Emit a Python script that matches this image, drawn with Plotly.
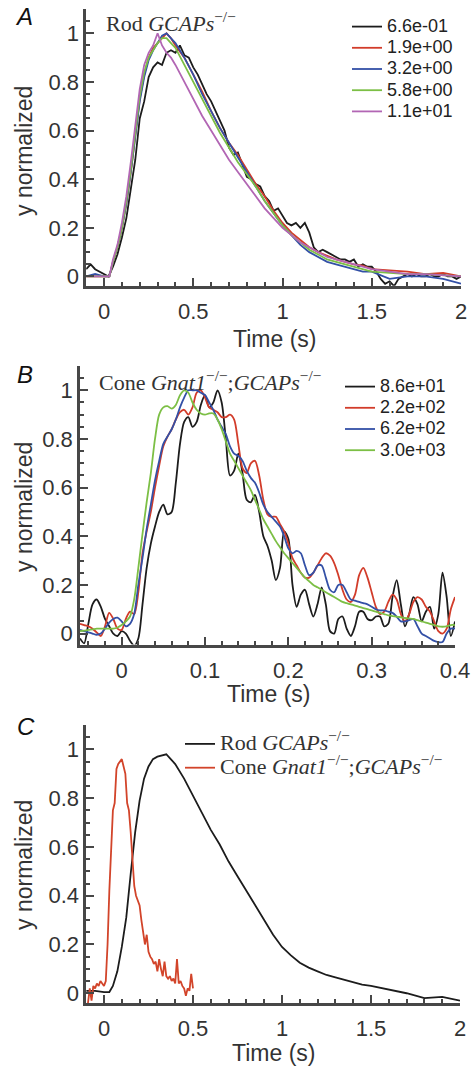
import plotly.graph_objects as go

# ---------------- Panel A: Rod GCAPs-/- ----------------
t_A_black = [-0.1, -0.075, -0.05, -0.025, 0.0, 0.025, 0.05, 0.075, 0.1, 0.125,
             0.15, 0.175, 0.2, 0.225, 0.25, 0.275, 0.3, 0.325, 0.35, 0.375,
             0.4, 0.425, 0.45, 0.475, 0.5, 0.525, 0.55, 0.575, 0.6, 0.625,
             0.65, 0.675, 0.7, 0.725, 0.75, 0.775, 0.8, 0.825, 0.85, 0.875,
             0.9, 0.925, 0.95, 0.975, 1.0, 1.025, 1.05, 1.075, 1.1, 1.125,
             1.15, 1.175, 1.2, 1.225, 1.25, 1.275, 1.3, 1.325, 1.35, 1.375,
             1.4, 1.425, 1.45, 1.475, 1.5, 1.525, 1.55, 1.575, 1.6, 1.625,
             1.65, 1.675, 1.7, 1.725, 1.75, 1.775, 1.8, 1.825, 1.85, 1.875,
             1.9, 1.925, 1.95, 1.975, 2.0]
A_6p6em01 = [0.03, 0.05, 0.03, 0.02, 0.01, 0.0, 0.04, 0.09, 0.16, 0.24,
             0.36, 0.48, 0.65, 0.72, 0.82, 0.86, 0.88, 0.87, 0.92, 0.93,
             0.92, 0.95, 0.91, 0.9, 0.86, 0.83, 0.79, 0.75, 0.72, 0.68,
             0.64, 0.6, 0.53, 0.5, 0.51, 0.46, 0.41, 0.4, 0.38, 0.37,
             0.33, 0.31, 0.27, 0.28, 0.25, 0.22, 0.21, 0.22, 0.2, 0.22,
             0.18, 0.12, 0.1, 0.11, 0.1, 0.09, 0.08, 0.07, 0.07, 0.06,
             0.07, 0.04, 0.05, 0.04, 0.04, 0.02, -0.01, -0.03, -0.02, -0.04,
             -0.01, 0.0, 0.01, 0.0, 0.01, 0.0, 0.0, 0.01, 0.0, 0.0,
             0.01, 0.0, 0.0, -0.01, 0.0]

t_A = [-0.1, -0.05, 0.0, 0.03, 0.05, 0.075, 0.1, 0.125, 0.15, 0.175,
       0.2, 0.225, 0.25, 0.275, 0.3, 0.325, 0.35, 0.375, 0.4, 0.45,
       0.5, 0.55, 0.6, 0.65, 0.7, 0.75, 0.8, 0.85, 0.9, 0.95,
       1.0, 1.05, 1.1, 1.15, 1.2, 1.25, 1.3, 1.35, 1.4, 1.45,
       1.5, 1.6, 1.7, 1.8, 1.9, 2.0]
A_1p9e00 = [0.0, 0.0, 0.0, 0.0, 0.06, 0.12, 0.2, 0.3, 0.43, 0.58,
            0.73, 0.83, 0.9, 0.94, 0.96, 0.98, 1.0, 0.98, 0.95, 0.9,
            0.83, 0.76, 0.68, 0.61, 0.55, 0.5, 0.44, 0.38, 0.33, 0.27,
            0.22, 0.18, 0.15, 0.12, 0.1, 0.085, 0.07, 0.06, 0.05, 0.045,
            0.03, 0.025, 0.02, 0.01, 0.015, 0.0]
A_3p2e00 = [0.0, 0.01, 0.0, 0.0, 0.06, 0.12, 0.2, 0.3, 0.43, 0.57,
            0.72, 0.82, 0.89, 0.93, 0.96, 0.99, 1.0, 0.98, 0.96, 0.9,
            0.83, 0.75, 0.68, 0.61, 0.55, 0.49, 0.43, 0.37, 0.31, 0.26,
            0.21, 0.17, 0.13, 0.1, 0.08, 0.06, 0.05, 0.04, 0.03, 0.02,
            0.02, -0.01, 0.0, 0.0, -0.01, -0.03]
A_5p8e00 = [0.0, 0.0, 0.0, 0.0, 0.06, 0.12, 0.2, 0.31, 0.44, 0.6,
            0.74, 0.84, 0.9, 0.93, 0.96, 0.98, 0.98, 0.96, 0.94, 0.87,
            0.8, 0.73, 0.66, 0.59, 0.53, 0.47, 0.42, 0.37, 0.31, 0.26,
            0.21, 0.17, 0.14, 0.11, 0.09, 0.07, 0.06, 0.05, 0.04, 0.03,
            0.02, 0.015, 0.01, 0.01, 0.005, 0.0]
A_1p1e01 = [0.0, 0.0, 0.0, 0.0, 0.07, 0.13, 0.22, 0.33, 0.47, 0.62,
            0.77, 0.87, 0.92, 0.95, 1.0, 0.95, 0.92, 0.9, 0.87, 0.8,
            0.73, 0.66, 0.6, 0.54, 0.48, 0.43, 0.38, 0.33, 0.28, 0.24,
            0.2, 0.17, 0.14, 0.12, 0.1, 0.08, 0.07, 0.06, 0.05, 0.04,
            0.03, 0.02, 0.01, 0.01, 0.005, 0.0]
labels_A = ["6.6e-01", "1.9e+00", "3.2e+00", "5.8e+00", "1.1e+01"]

# ---------------- Panel B: Cone Gnat1-/-;GCAPs-/- ----------------
t_B = [-0.05, -0.045, -0.04, -0.035, -0.03, -0.025, -0.02, -0.015, -0.01, -0.005,
       0.0, 0.005, 0.01, 0.015, 0.02, 0.025, 0.03, 0.035, 0.04, 0.045,
       0.05, 0.055, 0.06, 0.065, 0.07, 0.075, 0.08, 0.085, 0.09, 0.095,
       0.1, 0.105, 0.11, 0.115, 0.12, 0.125, 0.13, 0.135, 0.14, 0.145,
       0.15, 0.155, 0.16, 0.165, 0.17, 0.175, 0.18, 0.185, 0.19, 0.195,
       0.2, 0.205, 0.21, 0.215, 0.22, 0.225, 0.23, 0.235, 0.24, 0.245,
       0.25, 0.255, 0.26, 0.265, 0.27, 0.275, 0.28, 0.285, 0.29, 0.295,
       0.3, 0.305, 0.31, 0.315, 0.32, 0.325, 0.33, 0.335, 0.34, 0.345,
       0.35, 0.355, 0.36, 0.365, 0.37, 0.375, 0.38, 0.385, 0.39, 0.395,
       0.4]
B_8p6e01 = [-0.02, -0.04, 0.04, 0.12, 0.14, 0.11, 0.06, 0.03, 0.0, -0.01,
            0.01, 0.0, -0.03, -0.05, -0.02, 0.12, 0.27, 0.37, 0.44, 0.5,
            0.53, 0.49, 0.5, 0.62, 0.78, 0.87, 0.89, 0.85, 0.87, 0.94,
            0.98, 0.93, 0.95, 1.0, 0.95, 0.8, 0.65, 0.67, 0.74, 0.66,
            0.55, 0.54, 0.57, 0.5, 0.4, 0.36, 0.3, 0.22, 0.27, 0.42,
            0.39, 0.2, 0.11, 0.16, 0.18, 0.12, 0.07, 0.12, 0.19, 0.12,
            0.01, 0.0, 0.06, 0.07, 0.02, -0.01, 0.03, 0.09, 0.09, 0.06,
            0.055, 0.07, 0.07, 0.03, 0.04, 0.15, 0.22, 0.12, 0.03, 0.08,
            0.15, 0.12, 0.05, 0.09, 0.11, 0.02, 0.08, 0.25, 0.15, -0.01,
            0.05]
B_2p2e02 = [0.04, 0.035, 0.03, 0.02, 0.005, -0.01, 0.03, 0.085, 0.06, 0.02,
            0.015, 0.06, 0.09, 0.08, 0.17, 0.33, 0.42, 0.5, 0.6, 0.69,
            0.77, 0.81, 0.84, 0.88, 0.91, 0.92, 0.9, 0.93, 0.99, 1.0,
            0.97, 0.93, 0.92, 0.91, 0.89, 0.89, 0.9, 0.88, 0.78, 0.68,
            0.66, 0.7, 0.71, 0.65, 0.55, 0.49, 0.48, 0.48, 0.45, 0.42,
            0.37, 0.31, 0.28, 0.25, 0.23, 0.23, 0.25, 0.28, 0.31, 0.33,
            0.32, 0.29, 0.24, 0.18, 0.14, 0.13, 0.16, 0.24, 0.27, 0.23,
            0.17, 0.11, 0.08, 0.09, 0.13, 0.16, 0.14, 0.08, 0.05, 0.08,
            0.13, 0.15, 0.14, 0.11, 0.09, 0.05, 0.01, 0.0, 0.02, 0.1,
            0.15]
B_6p2e02 = [0.015, 0.01, 0.005, 0.0, -0.005, 0.0, 0.02, 0.045, 0.06, 0.065,
            0.05, 0.03, 0.04, 0.08, 0.2, 0.31, 0.43, 0.53, 0.63, 0.71,
            0.78, 0.81, 0.84, 0.88, 0.93, 0.97, 1.0, 1.0, 1.0, 0.99,
            0.98, 0.95, 0.92, 0.88, 0.85, 0.82, 0.77, 0.74, 0.73, 0.71,
            0.67, 0.64, 0.62, 0.58, 0.53, 0.5, 0.48, 0.46, 0.44, 0.4,
            0.35, 0.33, 0.34, 0.33, 0.28, 0.24, 0.25, 0.28, 0.28, 0.23,
            0.18, 0.17, 0.2, 0.2, 0.17, 0.14, 0.135, 0.13, 0.125, 0.12,
            0.11, 0.1, 0.095, 0.095, 0.09, 0.085, 0.07, 0.05, 0.05, 0.055,
            0.06, 0.03, 0.0, -0.01, -0.02, -0.03, -0.035, -0.035, 0.0, 0.02,
            0.02]
B_3p0e03 = [0.01, 0.012, 0.015, 0.017, 0.02, 0.02, 0.02, 0.02, 0.02, 0.025,
            0.035, 0.05, 0.07, 0.14, 0.27, 0.41, 0.54, 0.66, 0.8, 0.9,
            0.93, 0.935, 0.925, 0.94, 0.98, 1.0, 0.99, 0.95, 0.92, 0.905,
            0.9, 0.905, 0.905, 0.88, 0.84, 0.79, 0.74, 0.71, 0.68, 0.65,
            0.62, 0.59, 0.55, 0.51, 0.47, 0.44, 0.41, 0.38, 0.355, 0.33,
            0.31, 0.29, 0.27, 0.25, 0.23, 0.215, 0.2, 0.19, 0.18, 0.17,
            0.16, 0.15, 0.14, 0.13, 0.125, 0.12, 0.115, 0.11, 0.105, 0.1,
            0.095, 0.09, 0.085, 0.08, 0.075, 0.072, 0.07, 0.067, 0.064, 0.062,
            0.06, 0.055, 0.05, 0.045, 0.04, 0.035, 0.03, 0.028, 0.03, 0.035,
            0.035]
labels_B = ["8.6e+01", "2.2e+02", "6.2e+02", "3.0e+03"]

# ---------------- Panel C: comparison ----------------
t_C_rod = [-0.1, -0.05, 0.0, 0.03, 0.05, 0.075, 0.1, 0.125, 0.15, 0.175,
           0.2, 0.225, 0.25, 0.275, 0.3, 0.325, 0.35, 0.375, 0.4, 0.45,
           0.5, 0.55, 0.6, 0.65, 0.7, 0.75, 0.8, 0.85, 0.9, 0.95,
           1.0, 1.05, 1.1, 1.15, 1.2, 1.25, 1.3, 1.35, 1.4, 1.45,
           1.5, 1.6, 1.7, 1.8, 1.9, 2.0]
C_rod = [0.01, 0.01, 0.005, 0.005, 0.03, 0.09, 0.19, 0.31, 0.49, 0.66,
         0.79, 0.88, 0.93, 0.96, 0.97, 0.975, 0.98, 0.96, 0.94, 0.88,
         0.81, 0.74, 0.67, 0.61, 0.54, 0.48, 0.42, 0.36, 0.3, 0.24,
         0.19, 0.155, 0.125, 0.105, 0.09, 0.075, 0.065, 0.055, 0.045, 0.035,
         0.03, 0.015, 0.0, -0.02, -0.015, -0.03]
t_C_cone = [-0.09, -0.08, -0.07, -0.06, -0.05, -0.04, -0.03, -0.02, -0.01, 0.0,
            0.01, 0.02, 0.03, 0.04, 0.05, 0.06, 0.07, 0.08, 0.09, 0.1,
            0.11, 0.12, 0.13, 0.14, 0.15, 0.16, 0.17, 0.18, 0.19, 0.2,
            0.21, 0.22, 0.23, 0.24, 0.25, 0.26, 0.27, 0.28, 0.29, 0.3,
            0.31, 0.32, 0.33, 0.34, 0.35, 0.36, 0.37, 0.38, 0.39, 0.4,
            0.41, 0.42, 0.43, 0.44, 0.45, 0.46, 0.47, 0.48, 0.49, 0.5]
C_cone = [-0.04, 0.02, -0.03, 0.03, 0.02, 0.04, 0.03, 0.05, 0.04, 0.03,
          0.05, 0.2, 0.42, 0.62, 0.75, 0.78, 0.92, 0.94, 0.95, 0.96,
          0.93, 0.9, 0.78, 0.75, 0.66, 0.55, 0.44, 0.4, 0.38, 0.36,
          0.3, 0.24, 0.2, 0.24, 0.17, 0.15, 0.14, 0.12, 0.13, 0.09,
          0.14, 0.1, 0.07, 0.13, 0.07, 0.06, 0.07, 0.05, 0.06, 0.04,
          0.14, 0.04, 0.05, 0.03, 0.02, -0.01, 0.02, 0.01, 0.08, 0.02]

rod_label = "Rod <i>GCAPs</i><sup>−/−</sup>"
cone_label = "Cone <i>Gnat1</i><sup>−/−</sup>;<i>GCAPs</i><sup>−/−</sup>"

# ---------------- styling ----------------
W, H = 473, 1072
AX = "#474747"
SANS = "Liberation Sans, Arial, sans-serif"
SERIF = "Liberation Serif, Times New Roman, serif"
c_black = "#1c1c1c"
c_red = "#d23c2a"
c_blue = "#3350a6"
c_green = "#7cbf45"
c_purple = "#b266b4"


def px(x):
    return x / W


def py(y):
    return 1 - y / H


def big(text, size):
    return '<span style="font-size:%dpx">%s</span>' % (size, text)


fig = go.Figure()

colors_A = [c_black, c_red, c_blue, c_green, c_purple]
series_A = [(t_A_black, A_6p6em01), (t_A, A_1p9e00), (t_A, A_3p2e00),
            (t_A, A_5p8e00), (t_A, A_1p1e01)]
for (tt, vv), col, lab in zip(series_A, colors_A, labels_A):
    fig.add_trace(go.Scatter(x=tt, y=vv, mode="lines", name=big(lab, 18),
                             line=dict(color=col, width=1.8),
                             xaxis="x", yaxis="y", legend="legend"))

colors_B = [c_black, c_red, c_blue, c_green]
series_B = [B_8p6e01, B_2p2e02, B_6p2e02, B_3p0e03]
for vv, col, lab in zip(series_B, colors_B, labels_B):
    fig.add_trace(go.Scatter(x=t_B, y=vv, mode="lines", name=big(lab, 18),
                             line=dict(color=col, width=1.8, shape="spline", smoothing=0.8),
                             xaxis="x2", yaxis="y2", legend="legend2"))

fig.add_trace(go.Scatter(x=t_C_rod, y=C_rod, mode="lines", name=big(rod_label, 22),
                         line=dict(color=c_black, width=1.8),
                         xaxis="x3", yaxis="y3", legend="legend3"))
fig.add_trace(go.Scatter(x=t_C_cone, y=C_cone, mode="lines", name=big(cone_label, 22),
                         line=dict(color="#d2442a", width=1.8),
                         xaxis="x3", yaxis="y3", legend="legend3"))

tickfont = dict(family=SANS, size=22, color="#333")


def xaxis(domain, anchor, rng, tickvals, minor_dt):
    return dict(domain=domain, anchor=anchor, range=rng, showline=True,
                linecolor=AX, linewidth=2.5, ticks="inside", ticklen=8,
                tickwidth=2, tickcolor=AX, showgrid=False, zeroline=False,
                automargin=False, ticklabelstandoff=4,
                tickvals=tickvals, ticktext=[("%g" % v) for v in tickvals],
                tickfont=tickfont,
                minor=dict(dtick=minor_dt, tick0=0, ticks="inside", ticklen=4,
                           tickwidth=2, tickcolor=AX, showgrid=False))


def yaxis(domain, anchor, rng):
    vals = [0, 0.2, 0.4, 0.6, 0.8, 1]
    return dict(domain=domain, anchor=anchor, range=rng, showline=True,
                linecolor=AX, linewidth=2.5, ticks="inside", ticklen=8,
                tickwidth=2, tickcolor=AX, showgrid=False, zeroline=False,
                automargin=False,
                tickvals=vals, ticktext=[("%g" % v) for v in vals],
                tickfont=tickfont,
                minor=dict(dtick=0.05, tick0=0, ticks="inside", ticklen=4,
                           tickwidth=2, tickcolor=AX, showgrid=False))


fig.update_layout(
    width=W, height=H, margin=dict(l=0, r=0, t=0, b=0, autoexpand=False),
    paper_bgcolor="white", plot_bgcolor="white",
    xaxis=xaxis([px(86.2), px(461)], "y", [-0.1, 2.0], [0, 0.5, 1, 1.5, 2], 0.1),
    yaxis=yaxis([py(285.7), py(9)], "x", [-0.038, 1.1]),
    xaxis2=xaxis([px(80), px(455)], "y2", [-0.05, 0.4], [0, 0.1, 0.2, 0.3, 0.4], 0.02),
    yaxis2=yaxis([py(644.5), py(366)], "x2", [-0.045, 1.1]),
    xaxis3=xaxis([px(86.2), px(460)], "y3", [-0.1, 2.0], [0, 0.5, 1, 1.5, 2], 0.1),
    yaxis3=yaxis([py(1003), py(725)], "x3", [-0.04, 1.1]),
    legend=dict(x=px(347), y=py(11), xanchor="left", yanchor="top",
                bgcolor="rgba(0,0,0,0)", tracegroupgap=0,
                font=dict(family=SANS, size=14, color="#222")),
    legend2=dict(x=px(340), y=py(371), xanchor="left", yanchor="top",
                 bgcolor="rgba(0,0,0,0)", tracegroupgap=0,
                 font=dict(family=SANS, size=14, color="#222")),
    legend3=dict(x=px(180), y=py(727), xanchor="left", yanchor="top",
                 bgcolor="rgba(0,0,0,0)", tracegroupgap=0,
                 font=dict(family=SERIF, size=16, color="#333")),
    showlegend=True,
)


def note(text, x, y, size, family=SANS, color="#333", angle=0, xanchor="center"):
    fig.add_annotation(text=text, x=px(x), y=py(y), xref="paper", yref="paper",
                       showarrow=False, xanchor=xanchor, yanchor="middle",
                       textangle=angle, font=dict(family=family, size=size, color=color))


# panel letters
note("<i>A</i>", 24, 16, 24, color="#111")
note("<i>B</i>", 25, 374, 24, color="#111")
note("<i>C</i>", 26, 726, 24, color="#111")

# axis titles
for xc, yc in [(274, 339), (268, 694), (273, 1053)]:
    note("Time (s)", xc, yc, 23)
for yc in [151, 507, 865]:
    note("y normalized", 24, yc, 23, angle=-90)

# panel titles
note(rod_label, 104, 22, 22, family=SERIF, xanchor="left")
note(cone_label, 97, 381, 22, family=SERIF, xanchor="left")

fig.write_html("out.html")
